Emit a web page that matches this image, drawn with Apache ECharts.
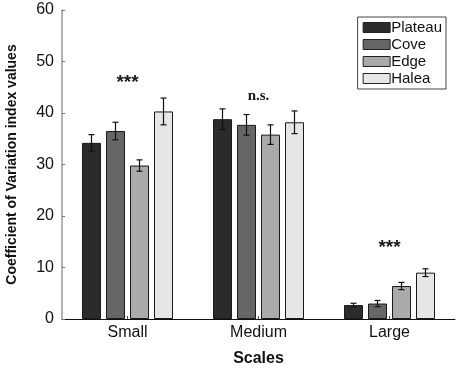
<!DOCTYPE html>
<html>
<head>
<meta charset="utf-8">
<script src="https://cdn.jsdelivr.net/npm/echarts@6/dist/echarts.min.js"></script>
<style>
  html, body { margin: 0; padding: 0; background: #fff; }
  #chart { width: 459px; height: 369px; }
</style>
</head>
<body>
<div id="chart"></div>
<script>
// data
var scales = ['Small', 'Medium', 'Large'];
var sites = ['Plateau', 'Cove', 'Edge', 'Halea'];
var plateau = [34.2, 38.8, 2.7];
var cove = [36.5, 37.7, 3.0];
var edge = [29.8, 35.8, 6.4];
var halea = [40.3, 38.2, 9.0];
var plateauErr = [1.6, 2.0, 0.35];
var coveErr = [1.7, 2.0, 0.6];
var edgeErr = [1.1, 1.9, 0.7];
var haleaErr = [2.6, 2.2, 0.75];
var signif = ['***', 'n.s.', '***'];
var signifY = [45.8, 43.3, 13.8];
var yTicks = [0, 10, 20, 30, 40, 50, 60];

var colors = ['#2b2b2b', '#666666', '#aaaaaa', '#e6e6e6'];
var values = [plateau, cove, edge, halea];
var errs = [plateauErr, coveErr, edgeErr, haleaErr];

var BAR_W = 19, BAR_GAP = 5;

var series = [];
sites.forEach(function (name, i) {
    series.push({
        name: name,
        type: 'bar',
        data: values[i],
        barWidth: BAR_W,
        barGap: (BAR_GAP / BAR_W * 100) + '%',
        itemStyle: { color: colors[i], borderColor: '#1a1a1a', borderWidth: 1 },
        z: 2
    });
});

// error bars
sites.forEach(function (name, i) {
    var d = values[i].map(function (v, k) { return [k, v - errs[i][k], v + errs[i][k]]; });
    series.push({
        type: 'custom',
        name: name + '_err',
        data: d,
        z: 5,
        silent: true,
        renderItem: function (params, api) {
            var groupW = 4 * BAR_W + 3 * BAR_GAP;
            var off = -groupW / 2 + BAR_W / 2 + i * (BAR_W + BAR_GAP);
            var lo = api.coord([api.value(0), api.value(1)]);
            var hi = api.coord([api.value(0), api.value(2)]);
            var x = lo[0] + off;
            var cap = 3;
            var st = { stroke: '#111', lineWidth: 1.2 };
            return {
                type: 'group',
                children: [
                    { type: 'line', shape: { x1: x, y1: lo[1], x2: x, y2: hi[1] }, style: st },
                    { type: 'line', shape: { x1: x - cap, y1: lo[1], x2: x + cap, y2: lo[1] }, style: st },
                    { type: 'line', shape: { x1: x - cap, y1: hi[1], x2: x + cap, y2: hi[1] }, style: st }
                ]
            };
        }
    });
});

// significance labels
series.push({
    type: 'custom',
    name: 'signif',
    data: scales.map(function (s, k) { return [k, signifY[k], k]; }),
    z: 6,
    silent: true,
    renderItem: function (params, api) {
        var p = api.coord([api.value(0), api.value(1)]);
        var k = api.value(2);
        var isNs = signif[k] === 'n.s.';
        return {
            type: 'text',
            x: p[0],
            y: p[1],
            style: {
                text: signif[k],
                textAlign: 'center',
                textVerticalAlign: 'middle',
                fill: '#1a1a1a',
                font: isNs ? 'bold 15px "Liberation Serif", serif' : 'bold 19px "Liberation Sans", Arial, sans-serif'
            }
        };
    }
});

var chart = echarts.init(document.getElementById('chart'));
chart.setOption({
    animation: false,
    textStyle: { fontFamily: '"Liberation Sans", Arial, sans-serif' },
    grid: { left: 62, right: 4, top: 10, bottom: 50, containLabel: false, outerBoundsMode: 'none' },
    legend: {
        data: sites,
        orient: 'vertical',
        right: 13,
        top: 17,
        itemWidth: 27,
        itemHeight: 10,
        itemGap: 2,
        padding: [3, 4, 3, 5],
        borderColor: '#444',
        borderWidth: 1,
        icon: 'rect',
        textStyle: { fontSize: 15, color: '#111', padding: [0, 0, 0, -4], lineHeight: 12 },
        itemStyle: { borderColor: '#222', borderWidth: 1 }
    },
    xAxis: {
        type: 'category',
        data: scales,
        name: 'Scales',
        nameLocation: 'middle',
        nameGap: 32,
        nameTextStyle: { fontSize: 16, fontWeight: 'bold', color: '#111' },
        axisLine: { lineStyle: { color: '#111', width: 1 } },
        axisTick: { show: true, inside: true, alignWithLabel: true, length: 3, lineStyle: { color: '#555' } },
        axisLabel: { fontSize: 16, color: '#111', margin: 6 }
    },
    yAxis: {
        type: 'value',
        min: 0,
        max: 60,
        interval: 10,
        name: 'Coefficient of Variation index values',
        nameLocation: 'middle',
        nameGap: 43,
        nameTextStyle: { fontSize: 14, fontWeight: 'bold', color: '#111' },
        axisLine: { show: true, lineStyle: { color: '#999', width: 1.5 } },
        axisTick: { show: true, inside: true, length: 3, lineStyle: { color: '#777' } },
        axisLabel: {
            fontSize: 16, color: '#111', margin: 8,
            formatter: function (v) { return yTicks.indexOf(v) >= 0 ? String(v) : ''; }
        },
        splitLine: { show: false }
    },
    series: series
});
</script>
</body>
</html>
